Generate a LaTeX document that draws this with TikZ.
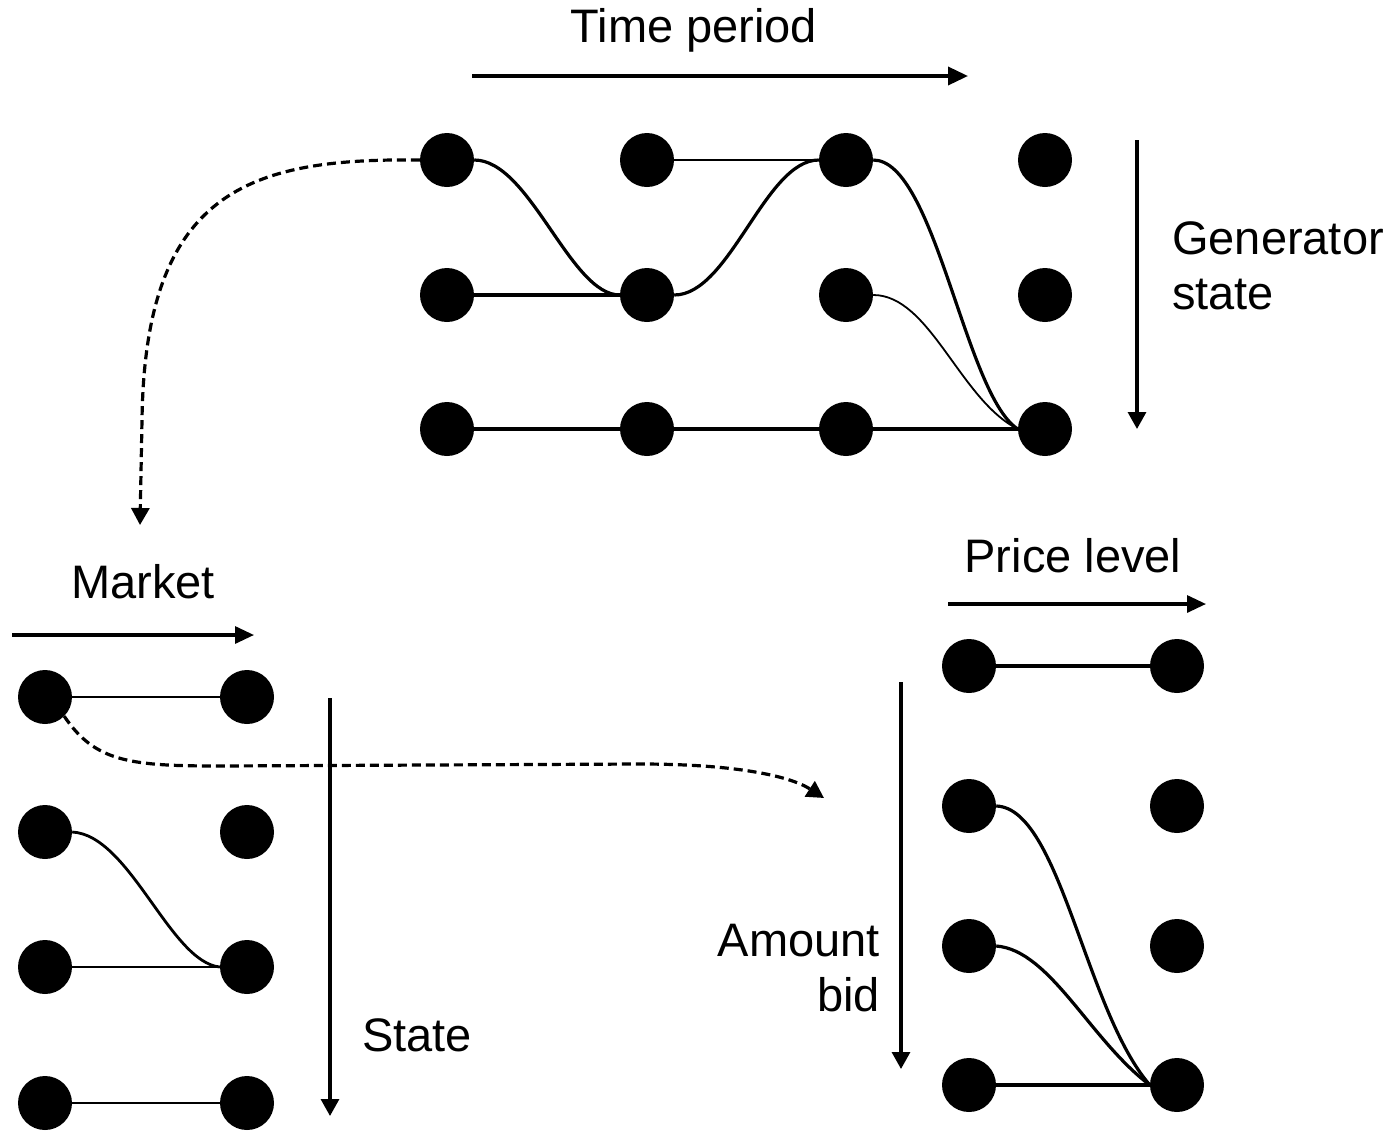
\documentclass[tikz,border=0pt]{standalone}
\usepackage{fontspec}
\setmainfont{Liberation Sans}
\usetikzlibrary{arrows.meta}
\begin{document}
\begin{tikzpicture}[x=1pt,y=-1pt,
  dot/.style={circle,fill=black,inner sep=0pt,minimum size=54pt},
  link/.style={line width=3.2pt},
  thinlink/.style={line width=1.8pt},
  axis/.style={line width=3.6pt,-{Triangle[length=20pt,width=18pt]}},
  vaxis/.style={line width=3.2pt,-{Triangle[length=17pt,width=18pt]}},
  jump/.style={line width=3.2pt,dash pattern=on 9pt off 5pt,-{Triangle[length=17pt,width=18pt]}},
  lbl/.style={font=\fontsize{47}{55}\selectfont,inner sep=0pt}]
\useasboundingbox (0,0) rectangle (1395,1133);

% ---- upper lattice: generator state over time periods ----
\foreach \c/\x in {1/447,2/647,3/846,4/1045}
  \foreach \r/\y in {1/160,2/295,3/429}
    \node[dot] (t\r\c) at (\x,\y) {};

\draw[link] (t11.east) .. controls (530,160) and (570,295) .. (t22.west);
\draw[link] (t22.east) .. controls (730,295) and (765,160) .. (t13.west);
\draw[thinlink] (t12.east) -- (t13.west);
\draw[link] (t21.east) -- (t22.west);
\draw[link] (t13.east) .. controls (935,160) and (965,395) .. (t34.west);
\draw[thinlink] (t23.east) .. controls (930,295) and (960,400) .. (t34.west);
\draw[link] (t31) -- (t32) -- (t33) -- (t34);

\node[lbl] (tp) at (694,30) {Time period};
\coordinate (tpa) at (472,76);
\coordinate (tpb) at (968,76);
\draw[axis] (tpa) -- (tpb);

\node[lbl,align=left,anchor=west] (gs) at (1172,266) {Generator\\state};
\coordinate (gsa) at (1137,140);
\coordinate (gsb) at (1137,429);
\draw[vaxis] (gsa) -- (gsb);

% ---- lower left lattice: state over markets ----
\foreach \c/\x in {1/45,2/247}
  \foreach \r/\y in {1/697,2/832,3/967,4/1103}
    \node[dot] (m\r\c) at (\x,\y) {};

\draw[link,line width=2.6pt] (m11) -- (m12);
\draw[link,line width=2.8pt] (m21.east) .. controls (130,835) and (170,962) .. (m32.west);
\draw[link,line width=2.8pt] (m31) -- (m32);
\draw[link,line width=2.8pt] (m41) -- (m42);

\node[lbl] (mk) at (143,582) {Market};
\coordinate (mka) at (12,635);
\coordinate (mkb) at (254,635);
\draw[axis,line width=3.2pt,-{Triangle[length=19pt,width=17pt]}] (mka) -- (mkb);

\node[lbl] (st) at (417,1035) {State};
\coordinate (sta) at (330,698);
\coordinate (stb) at (330,1116);
\draw[vaxis] (sta) -- (stb);

% ---- lower right lattice: amount bid over price levels ----
\foreach \c/\x in {1/969,2/1177}
  \foreach \r/\y in {1/666,2/806,3/946,4/1085}
    \node[dot] (p\r\c) at (\x,\y) {};

\draw[link] (p11) -- (p12);
\draw[link] (p21.east) .. controls (1060,808) and (1085,1010) .. (p42.west);
\draw[link] (p31.east) .. controls (1050,950) and (1090,1040) .. (p42.west);
\draw[link] (p41) -- (p42);

\node[lbl] (pl) at (1073,556) {Price level};
\coordinate (pla) at (948,604);
\coordinate (plb) at (1206,604);
\draw[axis,line width=3.2pt,-{Triangle[length=19pt,width=17pt]}] (pla) -- (plb);

\node[lbl,align=right,anchor=east] (ab) at (880,968) {Amount\\bid};
\coordinate (aba) at (901,682);
\coordinate (abb) at (901,1069);
\draw[vaxis] (aba) -- (abb);

% ---- dashed jumps between lattices ----
\coordinate (j1) at (140,525);
\draw[jump] (t11.west) .. controls (250,158) and (145,190) .. (142,420) -- (j1);

\coordinate (j2) at (824,798);
\draw[jump] (m11.south east) .. controls (95,762) and (130,766) .. (220,766)
  -- (640,764) .. controls (735,764) and (790,776) .. (j2);
\end{tikzpicture}
\end{document}
